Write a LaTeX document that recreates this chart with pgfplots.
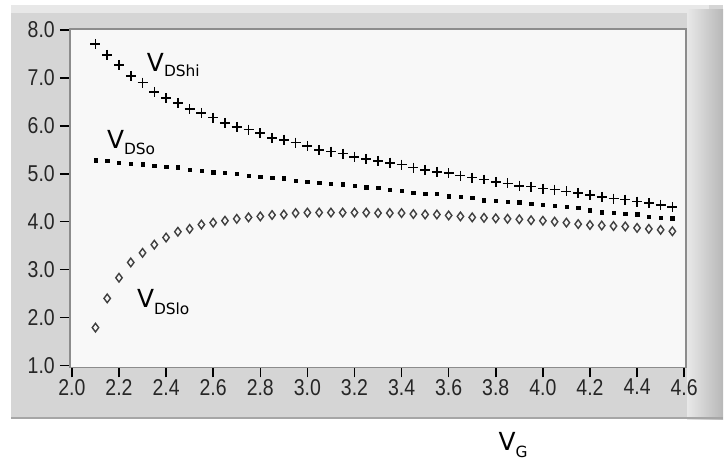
\documentclass[border=0pt]{standalone}
\usepackage{pgfplots}
\pgfplotsset{compat=1.18}
\usepackage{pgfplotstable}
\usepackage{fontspec}
\setmainfont{DejaVu Sans}
\newfontfamily\tickfont[FakeStretch=0.85]{Liberation Sans}
\definecolor{panel}{HTML}{D5D5D5}
\definecolor{panellight}{HTML}{E8E8E8}
\definecolor{plotbg}{HTML}{F8F8F8}
\definecolor{axisline}{HTML}{8C8C8C}
\pgfplotstableread{
x    hi    o     lo
2.10 7.71 5.28 1.79
2.15 7.48 5.27 2.40
2.20 7.27 5.23 2.83
2.25 7.04 5.21 3.15
2.30 6.90 5.20 3.35
2.35 6.71 5.17 3.52
2.40 6.58 5.15 3.67
2.45 6.48 5.14 3.79
2.50 6.35 5.08 3.85
2.55 6.27 5.06 3.94
2.60 6.17 5.03 3.98
2.65 6.06 5.02 4.02
2.70 5.98 5.00 4.06
2.75 5.92 4.96 4.09
2.80 5.85 4.94 4.11
2.85 5.75 4.92 4.14
2.90 5.71 4.91 4.15
2.95 5.65 4.86 4.18
3.00 5.58 4.83 4.19
3.05 5.50 4.81 4.19
3.10 5.46 4.79 4.19
3.15 5.42 4.78 4.19
3.20 5.35 4.75 4.19
3.25 5.31 4.72 4.19
3.30 5.27 4.71 4.18
3.35 5.23 4.67 4.18
3.40 5.19 4.65 4.18
3.45 5.13 4.61 4.16
3.50 5.08 4.59 4.15
3.55 5.04 4.58 4.15
3.60 5.01 4.53 4.13
3.65 4.96 4.52 4.11
3.70 4.92 4.50 4.09
3.75 4.88 4.45 4.08
3.80 4.83 4.44 4.07
3.85 4.80 4.42 4.06
3.90 4.75 4.41 4.05
3.95 4.73 4.38 4.03
4.00 4.69 4.35 4.02
4.05 4.67 4.33 4.00
4.10 4.63 4.31 3.98
4.15 4.60 4.29 3.95
4.20 4.56 4.24 3.93
4.25 4.52 4.20 3.92
4.30 4.48 4.19 3.91
4.35 4.46 4.17 3.90
4.40 4.42 4.16 3.87
4.45 4.39 4.11 3.85
4.50 4.35 4.08 3.83
4.55 4.31 4.07 3.80
}\datatable
\begin{document}
\begin{tikzpicture}
% page bounds (724 x 462 px, 1px = 1bp)
\path (-70bp,-94bp) rectangle (654bp,368bp);
% grey panel
\fill[panel] (-59bp,-52bp) rectangle (654bp,363bp);
\fill[panellight] (-59bp,355bp) rectangle (640bp,363bp);
\shade[left color=panellight, right color=black!28] (618bp,-52bp) rectangle (654bp,358bp);
\draw[black!35, line width=2bp] (-59bp,-51bp) -- (654bp,-51bp);
\begin{axis}[
  at={(0,0)}, anchor=south west,
  scale only axis, width=617bp, height=339bp,
  xmin=1.99152, xmax=4.6081, ymin=0.9583, ymax=8.0208,
  xtick={2,2.2,2.4,2.6,2.8,3,3.2,3.4,3.6,3.8,4,4.2,4.4,4.6},
  ytick={1,2,3,4,5,6,7,8},
  tick align=outside, major tick length=10bp,
  xtick pos=lower, ytick pos=left,
  tick style={black, line width=1.5bp},
  ticklabel style={font=\tickfont\fontsize{23}{23}\selectfont, text=black!85},
  yticklabel style={inner sep=5bp},
  xticklabel style={inner sep=1.5bp},
  /pgf/number format/fixed, /pgf/number format/fixed zerofill,
  /pgf/number format/precision=1, /pgf/number format/assume math mode=true,
  axis background/.style={fill=plotbg},
  axis line style={draw=axisline, line width=1.5bp},
  clip mode=individual,
]
\addplot[only marks, mark=+, mark size=5bp, mark options={line width=1.6bp, black}] table[x=x, y=hi] {\datatable};
\addplot[only marks, mark=square*, mark size=1.7bp, mark options={black}] table[x=x, y=o] {\datatable};
\addplot[only marks, mark=diamond, mark size=4.3bp, mark options={line width=1.4bp, black!75}] table[x=x, y=lo] {\datatable};
\end{axis}
% curve labels
\node[anchor=base west, inner sep=0] at (77bp,296bp) {\fontsize{25}{25}\selectfont V\raisebox{-5bp}{\fontsize{15.5}{15.5}\selectfont DShi}};
\node[anchor=base west, inner sep=0] at (37bp,219bp) {\fontsize{25}{25}\selectfont V\raisebox{-6bp}{\fontsize{15.5}{15.5}\selectfont DSo}};
\node[anchor=base west, inner sep=0] at (67bp,60bp) {\fontsize{25}{25}\selectfont V\raisebox{-7bp}{\fontsize{15.5}{15.5}\selectfont DSlo}};
\node[anchor=base west, inner sep=0] at (429bp,-83bp) {\fontsize{25}{25}\selectfont V\raisebox{-7bp}{\fontsize{15.5}{15.5}\selectfont G}};
\end{tikzpicture}
\end{document}
